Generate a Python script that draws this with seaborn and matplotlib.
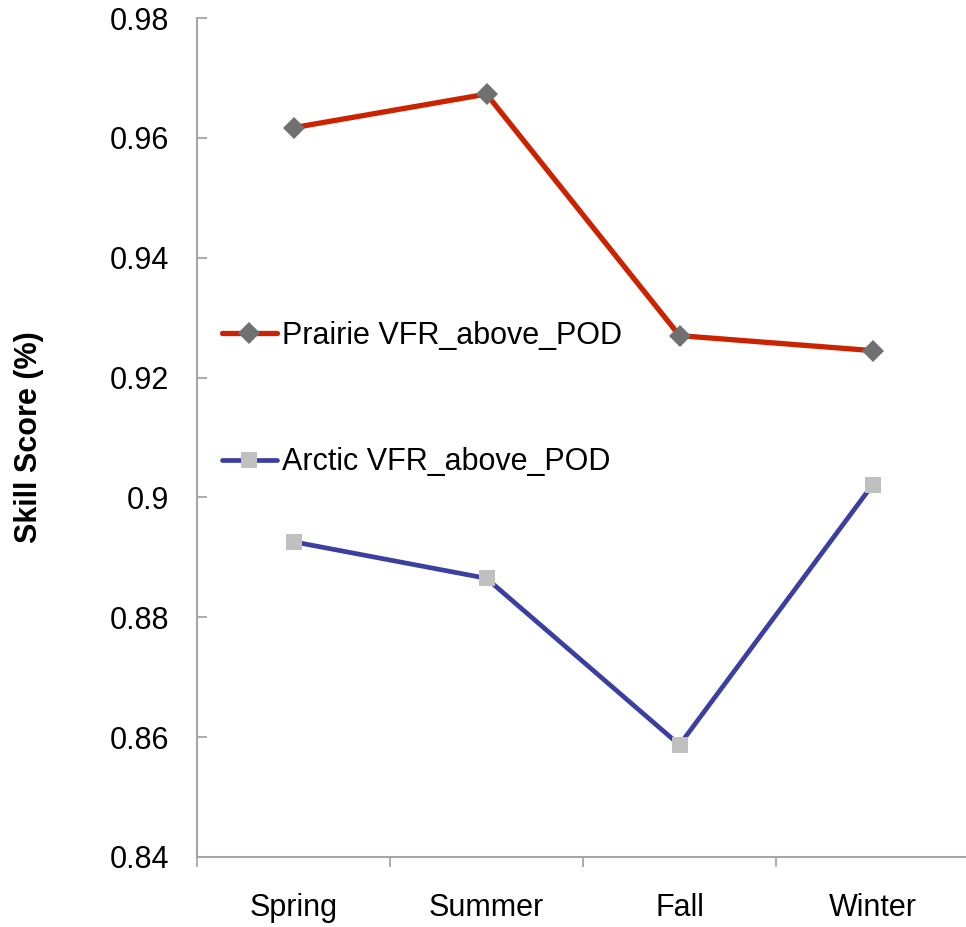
import matplotlib
matplotlib.use("Agg")
import matplotlib.pyplot as plt
import seaborn as sns
import pandas as pd
from matplotlib.ticker import FixedLocator

seasons = ["Spring", "Summer", "Fall", "Winter"]
prairie_pod = [0.9617, 0.9673, 0.9270, 0.9245]
arctic_pod = [0.8926, 0.8865, 0.8587, 0.9021]
prairie_label = "Prairie VFR_above_POD"
arctic_label = "Arctic VFR_above_POD"
y_ticks = [0.84, 0.86, 0.88, 0.9, 0.92, 0.94, 0.96, 0.98]
y_tick_labels = ["0.84", "0.86", "0.88", "0.9", "0.92", "0.94", "0.96", "0.98"]

sns.set_theme(style="white")
plt.rcParams["font.family"] = ["Liberation Sans", "DejaVu Sans"]
plt.rcParams["text.color"] = "black"
plt.rcParams["axes.labelcolor"] = "black"

df_prairie = pd.DataFrame({"Season": seasons, "Score": prairie_pod})
df_arctic = pd.DataFrame({"Season": seasons, "Score": arctic_pod})

fig = plt.figure(figsize=(9.66, 9.27), dpi=100)
ax = fig.add_axes([197 / 966, 1 - 857 / 927, 772 / 966, 839 / 927])

axis_gray = "#a6a6a6"

sns.lineplot(data=df_prairie, x="Season", y="Score", ax=ax, sort=False,
             color="#cc2200", linewidth=3.8, marker="D", markersize=11,
             markerfacecolor="#707070", markeredgewidth=0,
             label=prairie_label)
sns.lineplot(data=df_arctic, x="Season", y="Score", ax=ax, sort=False,
             color="#3b3f9f", linewidth=3.4, marker="s", markersize=11.5,
             markerfacecolor="#c0c0c0", markeredgewidth=0,
             label=arctic_label)

ax.set_xlim(-0.5, 3.5)
ax.set_ylim(0.84, 0.98)
ax.set_yticks(y_ticks)
ax.set_yticklabels(y_tick_labels)
ax.set_xticks(range(len(seasons)))
ax.set_xticklabels(seasons)
ax.xaxis.set_minor_locator(FixedLocator([-0.5, 0.5, 1.5, 2.5, 3.5]))

ax.tick_params(axis="y", which="major", direction="in", length=7, width=1.3,
               color=axis_gray, labelcolor="black", labelsize=22, pad=20,
               left=True)
ax.tick_params(axis="x", which="major", length=0, labelcolor="black",
               labelsize=22, pad=26)
ax.tick_params(axis="x", which="minor", direction="out", length=7, width=1.3,
               color=axis_gray, bottom=True)

for side in ["top", "right"]:
    ax.spines[side].set_visible(False)
for side in ["left", "bottom"]:
    ax.spines[side].set_color(axis_gray)
    ax.spines[side].set_linewidth(1.5)

ax.set_xlabel("")
ax.set_ylabel("Skill Score (%)", fontsize=22, fontweight="bold", labelpad=47)

ax.legend(loc="upper left", bbox_to_anchor=(0.032, 0.639), frameon=False,
          fontsize=22, labelspacing=3.16, handlelength=1.8, handletextpad=0.17,
          borderpad=0, borderaxespad=0)

fig.savefig("out.png", dpi=100)
